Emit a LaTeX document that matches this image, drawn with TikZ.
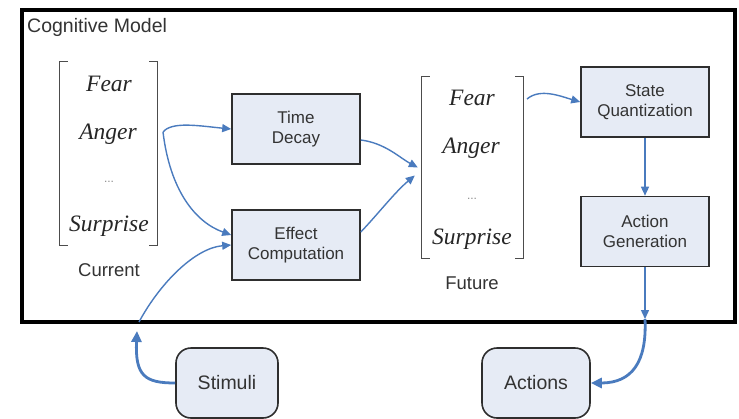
\documentclass[tikz,border=0pt]{standalone}
\usepackage{fontspec}
\setmainfont{Liberation Sans}
\newfontfamily\tms{Liberation Serif}
\usetikzlibrary{arrows.meta}
\definecolor{flow}{HTML}{4A7BBE}
\definecolor{boxfill}{HTML}{E6EBF5}
\definecolor{boxline}{HTML}{2E2E2E}
\definecolor{ink}{HTML}{333333}
\tikzset{
  procbox/.style={draw=boxline, line width=1.6pt, fill=boxfill, minimum width=128pt,
    minimum height=70pt, align=center, font=\fontsize{17}{20}\selectfont, text=ink, inner sep=0pt},
  termbox/.style={draw=boxline, line width=1.6pt, fill=boxfill, rounded corners=15pt,
    minimum height=70pt, font=\fontsize{19.5}{22}\selectfont, text=ink, inner sep=0pt},
  entry/.style={font=\tms\itshape\fontsize{23.5}{26}\selectfont, inner sep=0pt, text=black!85},
  dots/.style={font=\fontsize{12}{14}\selectfont, text=black!45, inner sep=0pt},
  caption/.style={font=\fontsize{18.5}{22}\selectfont, text=ink, inner sep=0pt},
  bracket/.style={draw=black!70, line width=1.1pt},
  thinflow/.style={draw=flow, line width=1.4pt, -{Triangle[length=9pt,width=8pt]}},
  thickflow/.style={draw=flow, line width=2.8pt, -{Triangle[length=11pt,width=10pt]}},
}
\begin{document}
\begin{tikzpicture}[x=1pt,y=1pt]
\useasboundingbox (0,0) rectangle (739,-418);
\fill[white] (0,0) rectangle (739,-418);

% enclosing model frame
\draw[line width=4pt, black] (22,-10) rectangle (735,-322);
\node[anchor=west, font=\fontsize{19.5}{22}\selectfont, text=ink, inner sep=0pt] (title) at (27,-27) {Cognitive Model};

% current emotion vector
\node[minimum width=97pt, minimum height=183pt, inner sep=0pt] (cur) at (108.5,-153.5) {};
\draw[bracket] ([xshift=8pt]cur.north west) -- (cur.north west) -- (cur.south west) -- ([xshift=8pt]cur.south west);
\draw[bracket] ([xshift=-8pt]cur.north east) -- (cur.north east) -- (cur.south east) -- ([xshift=-8pt]cur.south east);
\node[entry] (cfear) at (109,-84) {Fear};
\node[entry] (canger) at (108,-134) {Anger};
\node[dots] (cdots) at (109,-182) {...};
\node[entry] (csurp) at (109,-226) {Surprise};
\node[caption] (curlbl) at (109,-270) {Current};

% future emotion vector
\node[minimum width=101pt, minimum height=181pt, inner sep=0pt] (fut) at (472.5,-167.5) {};
\draw[bracket] ([xshift=8pt]fut.north west) -- (fut.north west) -- (fut.south west) -- ([xshift=8pt]fut.south west);
\draw[bracket] ([xshift=-8pt]fut.north east) -- (fut.north east) -- (fut.south east) -- ([xshift=-8pt]fut.south east);
\node[entry] (ffear) at (472,-98) {Fear};
\node[entry] (fanger) at (471,-148) {Anger};
\node[dots] (fdots) at (472,-199) {...};
\node[entry] (fsurp) at (472,-239) {Surprise};
\node[caption] (futlbl) at (472,-283) {Future};

% processing steps
\node[procbox] (td) at (296,-129) {Time\\Decay};
\node[procbox] (ec) at (296,-245) {Effect\\Computation};
\node[procbox] (sq) at (645,-102) {State\\Quantization};
\node[procbox] (ag) at (645,-231.5) {Action\\Generation};

% external terminals
\node[termbox, minimum width=102pt] (stim) at (227,-383) {Stimuli};
\node[termbox, minimum width=108pt] (act) at (536,-383) {Actions};

% crossing points on the frame
\coordinate (curout) at (163,-132);
\coordinate (futout) at (527,-99);
\coordinate (stimin) at (137,-331);
\coordinate (stimcross) at (139,-322);
\coordinate (actcross) at (645,-319);

% flows inside the model
\draw[thinflow] (curout) .. controls (172,-121) and (200,-126) .. (td.west);
\draw[thinflow] (curout) .. controls (170,-190) and (195,-222) .. ([yshift=10pt]ec.west);
\draw[thinflow] ([yshift=-11pt]td.east) .. controls (385,-143) and (400,-158) .. ([xshift=-4pt]fut.west);
\draw[thinflow] ([yshift=13pt]ec.east) .. controls (378,-214) and (395,-192) .. ([xshift=-7pt,yshift=-8pt]fut.west);
\draw[thinflow] (futout) .. controls (540,-88) and (560,-96) .. (sq.west);
\draw[thinflow] (sq.south) -- (ag.north);
\draw[thinflow] (ag.south) -- (actcross);
\draw[thinflow] (stimcross) .. controls (160,-283) and (195,-248) .. (ec.west);

% flows across the frame
\draw[thickflow] (stim.west) .. controls (145,-383) and (135,-376) .. (stimin);
\draw[thickflow] (actcross) .. controls (647,-362) and (632,-383) .. (act.east);
\end{tikzpicture}
\end{document}
